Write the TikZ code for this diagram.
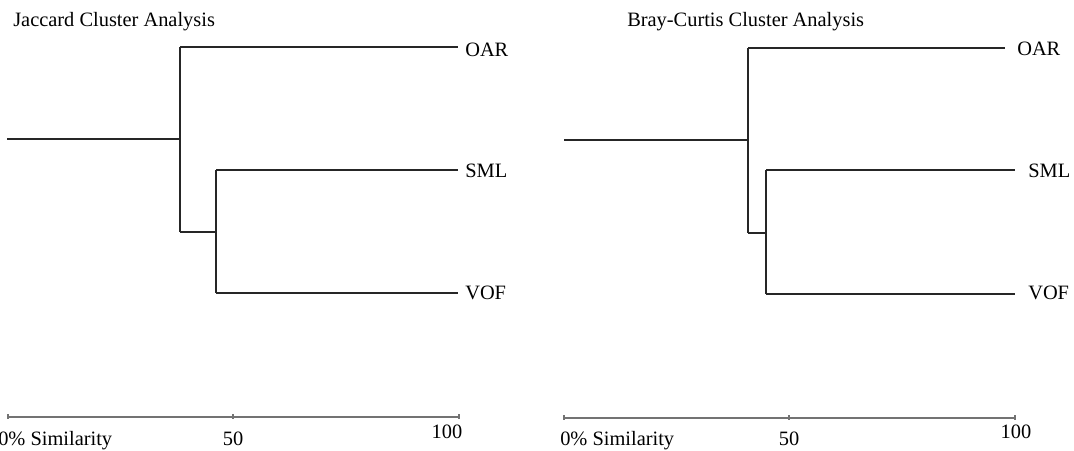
\documentclass[tikz,border=0pt]{standalone}
\usepackage{fontspec}
\setmainfont{Liberation Serif}
\begin{document}
\begin{tikzpicture}[x=0.75pt,y=-0.75pt,
  tree/.style={draw=black!85,line width=0.8pt},
  axisline/.style={draw=black!55,line width=0.8pt},
  lbl/.style={font=\fontsize{15.3}{18}\selectfont,inner sep=0pt,anchor=base west},
  ticklbl/.style={font=\fontsize{15.3}{18}\selectfont,inner sep=0pt,anchor=base}]
\useasboundingbox (0,0) rectangle (1074,450);
% ---------- Left: Jaccard ----------
\node[lbl] (tJ) at (13,26) {Jaccard Cluster Analysis};
\coordinate (Jroot) at (7,139);
\coordinate (Ja) at (180,139);
\coordinate (JaTop) at (180,47);
\coordinate (JaBot) at (180,232);
\coordinate (Jb) at (216,232);
\coordinate (JbTop) at (216,170);
\coordinate (JbBot) at (216,293);
\coordinate (JOARe) at (458,47);
\coordinate (JSMLe) at (458,170);
\coordinate (JVOFe) at (458,293);
\node[lbl] (JOAR) at (465,56) {OAR};
\node[lbl] (JSML) at (465,177) {SML};
\node[lbl] (JVOF) at (465,299) {VOF};
\draw[tree] (Jroot) -- (Ja);
\draw[tree] (JaTop) -- (JaBot);
\draw[tree] (JaTop) -- (JOARe);
\draw[tree] (JaBot) -- (Jb);
\draw[tree] (JbTop) -- (JbBot);
\draw[tree] (JbTop) -- (JSMLe);
\draw[tree] (JbBot) -- (JVOFe);
% axis
\coordinate (JX0) at (8,417);
\coordinate (JX50) at (233,417);
\coordinate (JX100) at (459,417);
\draw[axisline] (JX0) -- (JX100);
\foreach \c in {JX0,JX50,JX100} \draw[axisline] ([yshift=2.2pt]\c) -- ([yshift=-1.5pt]\c);
\node[lbl] (JL0) at (-2,445) {0\% Similarity};
\node[ticklbl] (JL50) at (233,445) {50};
\node[ticklbl] (JL100) at (447,438) {100};
% ---------- Right: Bray-Curtis ----------
\node[lbl] (tB) at (627,26) {Bray-Curtis Cluster Analysis};
\coordinate (Broot) at (564,140);
\coordinate (Ba) at (748,140);
\coordinate (BaTop) at (748,48);
\coordinate (BaBot) at (748,233);
\coordinate (Bb) at (766,233);
\coordinate (BbTop) at (766,170);
\coordinate (BbBot) at (766,294);
\coordinate (BOARe) at (1005,48);
\coordinate (BSMLe) at (1015,170);
\coordinate (BVOFe) at (1015,294);
\node[lbl] (BOAR) at (1017,55) {OAR};
\node[lbl] (BSML) at (1028,177) {SML};
\node[lbl] (BVOF) at (1028,299) {VOF};
\draw[tree] (Broot) -- (Ba);
\draw[tree] (BaTop) -- (BaBot);
\draw[tree] (BaTop) -- (BOARe);
\draw[tree] (BaBot) -- (Bb);
\draw[tree] (BbTop) -- (BbBot);
\draw[tree] (BbTop) -- (BSMLe);
\draw[tree] (BbBot) -- (BVOFe);
% axis
\coordinate (BX0) at (564,418);
\coordinate (BX50) at (789,418);
\coordinate (BX100) at (1015,418);
\draw[axisline] (BX0) -- (BX100);
\foreach \c in {BX0,BX50,BX100} \draw[axisline] ([yshift=2.2pt]\c) -- ([yshift=-1.5pt]\c);
\node[lbl] (BL0) at (560,445) {0\% Similarity};
\node[ticklbl] (BL50) at (789,445) {50};
\node[ticklbl] (BL100) at (1016,438) {100};
\end{tikzpicture}
\end{document}
